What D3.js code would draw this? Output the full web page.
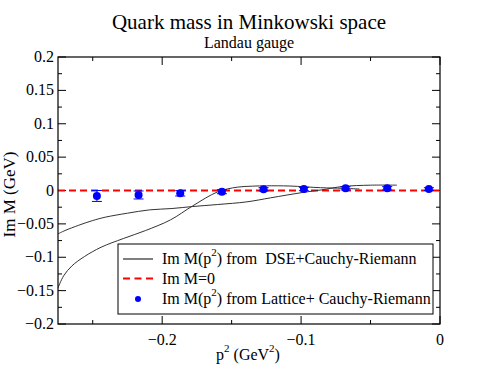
<!DOCTYPE html>
<html>
<head>
<meta charset="utf-8">
<script src="https://cdn.jsdelivr.net/npm/d3@7"></script>
<style>
  body { margin: 0; background: #fff; }
</style>
</head>
<body>
<div id="wrapper"></div>
<script>
// DSE + Cauchy-Riemann curves (two branches)
const dseA_p2 = [-0.275, -0.270, -0.260, -0.250, -0.241, -0.225, -0.209, -0.193, -0.178, -0.160, -0.139, -0.122, -0.099, -0.085, -0.070, -0.050, -0.031];
const dseA_M  = [-0.065, -0.060, -0.052, -0.045, -0.040, -0.034, -0.029, -0.027, -0.024, -0.021, -0.017, -0.011, -0.003, 0.001, 0.006, 0.008, 0.008];
const dseB_p2 = [-0.275, -0.271, -0.265, -0.256, -0.244, -0.228, -0.212, -0.194, -0.178, -0.160, -0.146, -0.135, -0.125, -0.108, -0.086, -0.070, -0.058];
const dseB_M  = [-0.146, -0.128, -0.113, -0.099, -0.085, -0.072, -0.060, -0.044, -0.023, -0.002, 0.005, 0.0065, 0.007, 0.0067, 0.0042, 0.0033, 0.0022];

// Lattice + Cauchy-Riemann points
const lat_p2  = [-0.247, -0.217, -0.187, -0.157, -0.127, -0.098, -0.068, -0.038, -0.008];
const lat_M   = [-0.0082, -0.0067, -0.0042, -0.0018, 0.0018, 0.0022, 0.0033, 0.0033, 0.0022];
const lat_err = [0.0082, 0.0060, 0.0040, 0.0030, 0.0025, 0.0025, 0.0025, 0.0025, 0.0020];

const xTicks = [-0.2, -0.1, 0];
const yTicks = [-0.2, -0.15, -0.1, -0.05, 0, 0.05, 0.1, 0.15, 0.2];

const legendLabels = ["Im M(p\u00B2) from  DSE+Cauchy-Riemann", "Im M=0", "Im M(p\u00B2) from Lattice+ Cauchy-Riemann"];

const dim = { width: 494, height: 382, margin: { top: 57, left: 58, right: 54, bottom: 58 } };
dim.bw = dim.width - dim.margin.left - dim.margin.right;
dim.bh = dim.height - dim.margin.top - dim.margin.bottom;

const svg = d3.select("#wrapper").append("svg")
  .attr("width", dim.width).attr("height", dim.height);

const x = d3.scaleLinear().domain([-0.275, 0]).range([0, dim.bw]);
const y = d3.scaleLinear().domain([-0.2, 0.2]).range([dim.bh, 0]);

const g = svg.append("g").attr("transform", `translate(${dim.margin.left},${dim.margin.top})`);

svg.append("defs").append("clipPath").attr("id", "clip")
  .append("rect").attr("width", dim.bw).attr("height", dim.bh);

// ticks, inward, on all sides
const yMinor = d3.range(-0.2, 0.2001, 0.025).map(v => +v.toFixed(3));
const xMinor = [-0.25, -0.15, -0.05];
const tickG = g.append("g").attr("stroke", "#000").attr("stroke-width", 1);
yMinor.forEach(v => {
  const major = yTicks.some(t => Math.abs(t - v) < 1e-6);
  const len = major ? 8 : 4;
  tickG.append("line").attr("x1", 0).attr("x2", len).attr("y1", y(v)).attr("y2", y(v));
  tickG.append("line").attr("x1", dim.bw).attr("x2", dim.bw - len).attr("y1", y(v)).attr("y2", y(v));
});
xTicks.concat(xMinor).forEach(v => {
  const len = xTicks.includes(v) ? 8 : 4;
  tickG.append("line").attr("x1", x(v)).attr("x2", x(v)).attr("y1", dim.bh).attr("y2", dim.bh - len);
  tickG.append("line").attr("x1", x(v)).attr("x2", x(v)).attr("y1", 0).attr("y2", len);
});

// tick labels
g.append("g").selectAll("text").data(yTicks).join("text")
  .attr("x", -4).attr("y", d => y(d) + 5)
  .attr("text-anchor", "end").attr("font-size", 16)
  .text(d => d === 0 ? "0" : d3.format("")(d));
g.append("g").selectAll("text").data(xTicks).join("text")
  .attr("x", d => x(d)).attr("y", dim.bh + 21)
  .attr("text-anchor", "middle").attr("font-size", 16)
  .text(d => d === 0 ? "0" : d3.format("")(d));

const plot = g.append("g").attr("clip-path", "url(#clip)");

// zero line
plot.append("line")
  .attr("x1", x(-0.275)).attr("x2", x(0)).attr("y1", y(0)).attr("y2", y(0))
  .attr("stroke", "#ff0000").attr("stroke-width", 2).attr("stroke-dasharray", "7,4");

const line = d3.line().x(d => x(d[0])).y(d => y(d[1])).curve(d3.curveCatmullRom);
[[dseA_p2, dseA_M], [dseB_p2, dseB_M]].forEach(([xs, ys]) => {
  plot.append("path")
    .datum(xs.map((v, i) => [v, ys[i]]))
    .attr("d", line).attr("fill", "none")
    .attr("stroke", "#333").attr("stroke-width", 1);
});

// lattice points with error bars
const pts = lat_p2.map((v, i) => ({ x: v, y: lat_M[i], e: lat_err[i] }));
const eb = plot.append("g").attr("stroke", "#0000ff").attr("stroke-width", 1);
pts.forEach(d => {
  eb.append("line").attr("x1", x(d.x)).attr("x2", x(d.x)).attr("y1", y(d.y - d.e)).attr("y2", y(d.y + d.e));
  eb.append("line").attr("x1", x(d.x) - 5).attr("x2", x(d.x) + 5).attr("y1", y(d.y - d.e)).attr("y2", y(d.y - d.e));
  eb.append("line").attr("x1", x(d.x) - 5).attr("x2", x(d.x) + 5).attr("y1", y(d.y + d.e)).attr("y2", y(d.y + d.e));
});
plot.append("g").selectAll("circle").data(pts).join("circle")
  .attr("cx", d => x(d.x)).attr("cy", d => y(d.y)).attr("r", 4)
  .attr("fill", "#0000ff");

// frame
g.append("rect").attr("width", dim.bw).attr("height", dim.bh)
  .attr("fill", "none").attr("stroke", "#000").attr("stroke-width", 1.2);

// titles
svg.append("text").attr("x", 249).attr("y", 29).attr("text-anchor", "middle")
  .attr("font-size", 21).text("Quark mass in Minkowski space");
svg.append("text").attr("x", 249).attr("y", 48).attr("text-anchor", "middle")
  .attr("font-size", 16).text("Landau gauge");

// axis labels
const xl = svg.append("text").attr("x", 248).attr("y", 360).attr("text-anchor", "middle").attr("font-size", 16);
xl.append("tspan").text("p");
xl.append("tspan").attr("font-size", 11).attr("dy", -8).text("2");
xl.append("tspan").attr("dy", 8).text(" (GeV");
xl.append("tspan").attr("font-size", 11).attr("dy", -8).text("2");
xl.append("tspan").attr("dy", 8).text(")");

svg.append("text").attr("transform", `translate(15,${dim.margin.top + y(0) + 4}) rotate(-90)`)
  .attr("text-anchor", "middle").attr("font-size", 17).text("Im M (GeV)");

// legend
const lg = svg.append("g").attr("transform", "translate(118,244)");
lg.append("rect").attr("width", 315).attr("height", 70)
  .attr("fill", "#fff").attr("stroke", "#000").attr("stroke-width", 1);
const rows = [15, 34.5, 55];
lg.append("line").attr("x1", 5).attr("x2", 35).attr("y1", rows[0]).attr("y2", rows[0])
  .attr("stroke", "#555").attr("stroke-width", 1.5);
lg.append("line").attr("x1", 5).attr("x2", 35).attr("y1", rows[1]).attr("y2", rows[1])
  .attr("stroke", "#ff0000").attr("stroke-width", 2).attr("stroke-dasharray", "7,4.5");
lg.append("circle").attr("cx", 20).attr("cy", rows[2]).attr("r", 3).attr("fill", "#0000ff");
legendLabels.forEach((s, i) => {
  const t = lg.append("text").attr("x", 44).attr("y", rows[i] + 5).attr("font-size", 16)
    .attr("xml:space", "preserve").style("white-space", "pre");
  const parts = s.split("\u00B2");
  if (parts.length > 1) {
    t.append("tspan").text(parts[0]);
    t.append("tspan").attr("font-size", 11).attr("dy", -8).text("2");
    t.append("tspan").attr("dy", 8).text(parts[1]);
  } else {
    t.text(s);
  }
});

// serif font on every text
svg.selectAll("text").style("font-family", '"Liberation Serif"').attr("fill", "#000");
</script>
</body>
</html>
